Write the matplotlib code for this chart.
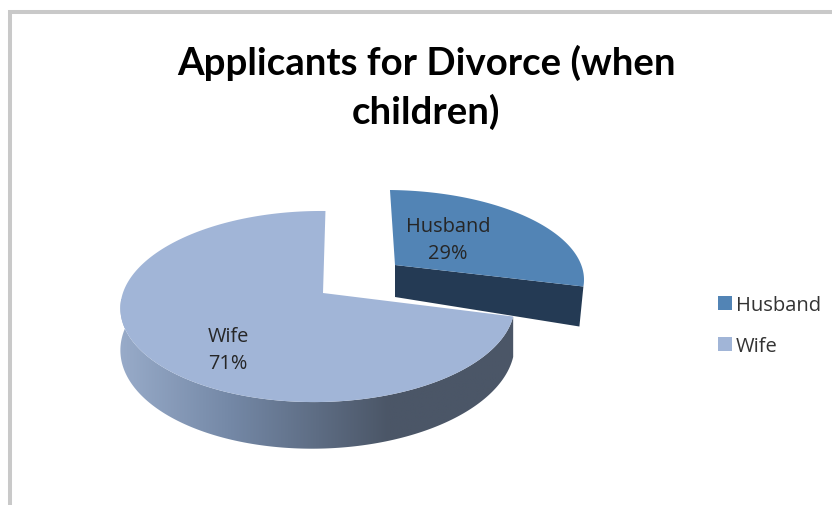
import numpy as np
import matplotlib.pyplot as plt
from matplotlib.patches import Patch, Polygon
from matplotlib.colors import LinearSegmentedColormap

plt.rcParams['font.family'] = ['Open Sans', 'DejaVu Sans']

labels = ["Husband", "Wife"]
shares = [29, 71]
title = "Applicants for Divorce (when\nchildren)"

col_husband = "#5284b5"
col_husband_side = "#243a54"
col_wife = "#a1b5d7"
col_text = "#262626"

K = 0.1415
M = 0.0255


def project(theta, ax0, ay0, rx, ry, shear):
    # theta goes clockwise from 12 o'clock, radians
    u = np.sin(theta)
    v = np.cos(theta)
    p = 1 / (1 + K * v + M * u)
    y = ay0 - ry * v * p
    x = ax0 + rx * u * p + shear * (y - ay0)
    return x, y, p


end_h = 2 * np.pi * shares[0] / sum(shares)

fig = plt.figure(figsize=(8.32, 5.06), dpi=100)
ax = fig.add_axes([0, 0, 1, 1])
ax.set_xlim(0, 832)
ax.set_ylim(506, 0)
ax.axis("off")

# chart frame, only top and left show
ax.plot([10, 10, 832], [506, 13, 13], color="#c9c9c9", lw=2.9, solid_joinstyle="miter")

# wife slice side wall with gradient
t_w = np.linspace(end_h, 2 * np.pi, 300)
xw, yw, pw = project(t_w, 323, 294, 195, 93.6, -0.03)
vis = t_w < np.radians(280)
xs, ys, ps = xw[vis], yw[vis], pw[vis]
side = np.column_stack([np.r_[xs, xs[::-1]], np.r_[ys, (ys + 40 * ps)[::-1]]])
cmap = LinearSegmentedColormap.from_list(
    "side", [(0, "#4b5667"), (0.32, "#4b5667"), (0.72, "#7488a6"), (1, "#98abc9")])
grad = np.linspace(0, 1, 256).reshape(1, -1)
im = ax.imshow(grad, extent=[515, 120, 460, 300], cmap=cmap, aspect="auto", zorder=2)
clip = Polygon(side, closed=True, transform=ax.transData, fc="none", ec="none")
ax.add_patch(clip)
im.set_clip_path(clip)
ax.set_xlim(0, 832)
ax.set_ylim(506, 0)

# wife slice top
ax.add_patch(Polygon(np.column_stack([np.r_[323, xw], np.r_[294, yw]]), closed=True,
                     fc=col_wife, ec="none", zorder=3))

# husband slice, pulled out
t_h = np.linspace(0, end_h, 120)
xh, yh, ph = project(t_h, 395, 266, 191, 85.6, 0.067)
ex, ey = xh[-1], yh[-1]
xb, yb = ex - 4, ey + 40
ax.add_patch(Polygon([[395, 266], [ex, ey], [xb, yb], [395, 298]], closed=True,
                     fc=col_husband_side, ec="none", zorder=1))
ax.add_patch(Polygon(np.column_stack([np.r_[395, xh], np.r_[266, yh]]), closed=True,
                     fc=col_husband, ec="none", zorder=1))

# data labels
ax.text(448, 240.5, f"{labels[0]}\n{shares[0]}%", ha="center", va="center", fontsize=14.4,
        color=col_text, linespacing=1.42, zorder=5)
ax.text(228, 350.5, f"{labels[1]}\n{shares[1]}%", ha="center", va="center", fontsize=14.4,
        color=col_text, linespacing=1.42, zorder=5)

ax.text(426, 87.5, title, ha="center", va="center", fontsize=27.6, fontweight="bold",
        family=['Lato', 'DejaVu Sans'], color="black", linespacing=1.42, zorder=5)

handles = [Patch(fc=col_husband, ec="none"), Patch(fc=col_wife, ec="none")]
ax.legend(handles, labels, loc="center left", bbox_to_anchor=(718 / 832, 1 - 326.5 / 506),
          frameon=False, fontsize=14.5, handlelength=0.7, handleheight=0.7, handletextpad=0.2,
          labelspacing=1.05, borderpad=0, borderaxespad=0, labelcolor="#333333")

fig.savefig("out.png", dpi=100)
